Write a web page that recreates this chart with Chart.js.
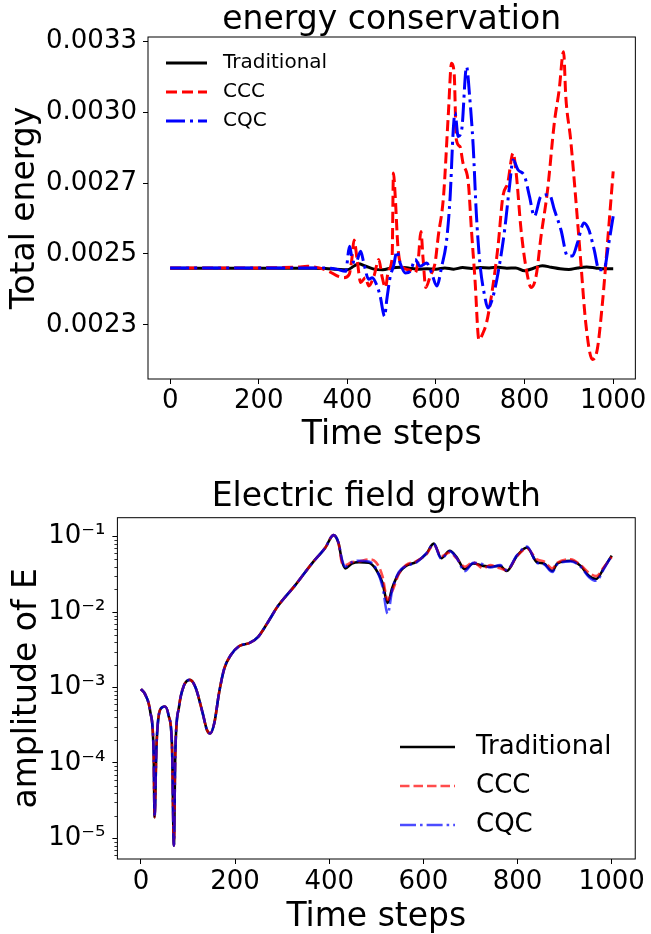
<!DOCTYPE html>
<html>
<head>
<meta charset="utf-8">
<script src="https://cdn.jsdelivr.net/npm/chart.js@4.4.0/dist/chart.umd.min.js"></script>
<style>
  body { margin: 0; background: #fff; }
  canvas { display: block; }
</style>
</head>
<body>
<canvas id="energy-chart" width="651" height="467"></canvas>
<canvas id="field-chart" width="651" height="467"></canvas>
<script>
// x axis ticks, shared by both panels
const stepTicks = [0, 200, 400, 600, 800, 1000]

// energy conservation panel
const energyTicks = [0.00228, 0.002501, 0.002743, 0.003009, 0.0033]
const energyTickLabels = ['0.0023', '0.0025', '0.0027', '0.0030', '0.0033']

const tradSteps = [0, 100, 200, 300, 325, 350, 375, 400, 415, 425, 440, 460, 480, 500, 520, 540, 560, 580, 600, 620, 640, 660, 680, 700, 720, 740, 760, 780, 800, 820, 840, 860, 880, 900, 920, 940, 960, 980, 1000]
const tradEnergy = [0.002455, 0.002455, 0.002455, 0.002455, 0.002455, 0.002454, 0.002452, 0.002450, 0.002462, 0.002469, 0.002462, 0.002452, 0.002450, 0.002456, 0.002458, 0.002455, 0.002452, 0.002453, 0.002452, 0.002456, 0.002452, 0.002457, 0.002454, 0.002457, 0.002456, 0.002458, 0.002455, 0.002456, 0.002447, 0.002455, 0.002463, 0.002458, 0.002453, 0.002451, 0.002456, 0.002459, 0.002456, 0.002453, 0.002453]

const cccSteps = [0, 100, 200, 250, 290, 310, 336, 358, 381, 392, 404, 410, 415, 422, 430, 441, 448, 460, 471, 478, 486, 493, 501, 504, 508, 514, 523, 538, 553, 560, 566, 571, 577, 587, 598, 605, 617, 628, 635, 641, 646, 654, 661, 673, 680, 688, 697, 706, 714, 725, 740, 751, 762, 774, 781, 792, 804, 815, 826, 837, 852, 867, 878, 888, 893, 904, 915, 927, 938, 953, 964, 975, 987, 1000]
const cccEnergy = [0.002456, 0.002456, 0.002456, 0.002457, 0.002459, 0.002461, 0.002456, 0.002445, 0.002428, 0.002425, 0.002435, 0.002483, 0.002547, 0.002483, 0.002410, 0.002425, 0.002399, 0.002430, 0.002483, 0.002430, 0.002394, 0.002450, 0.002488, 0.002779, 0.002696, 0.002526, 0.002461, 0.002450, 0.002440, 0.002483, 0.002575, 0.002483, 0.002394, 0.002430, 0.002472, 0.002558, 0.002696, 0.003005, 0.003206, 0.003165, 0.002902, 0.002877, 0.002815, 0.002744, 0.002581, 0.002420, 0.002236, 0.002256, 0.002286, 0.002367, 0.002526, 0.002696, 0.002744, 0.002852, 0.002779, 0.002581, 0.002450, 0.002394, 0.002430, 0.002558, 0.002720, 0.002966, 0.003097, 0.003255, 0.003070, 0.002902, 0.002696, 0.002472, 0.002286, 0.002180, 0.002208, 0.002336, 0.002536, 0.002785]

const cqcSteps = [0, 100, 200, 300, 350, 375, 396, 405, 411, 419, 430, 437, 448, 456, 467, 474, 484, 489, 497, 504, 512, 519, 531, 542, 553, 564, 579, 590, 602, 613, 624, 632, 639, 643, 650, 658, 669, 676, 684, 691, 699, 710, 717, 729, 744, 755, 766, 774, 785, 800, 811, 822, 837, 856, 867, 882, 897, 908, 919, 934, 945, 957, 968, 979, 990, 1000]
const cqcEnergy = [0.002456, 0.002456, 0.002456, 0.002456, 0.002456, 0.002452, 0.002445, 0.002526, 0.002483, 0.002472, 0.002510, 0.002472, 0.002420, 0.002425, 0.002399, 0.002367, 0.002306, 0.002357, 0.002430, 0.002461, 0.002510, 0.002472, 0.002440, 0.002445, 0.002483, 0.002461, 0.002472, 0.002440, 0.002399, 0.002461, 0.002547, 0.002696, 0.002940, 0.003005, 0.002915, 0.002940, 0.003192, 0.003070, 0.002877, 0.002638, 0.002472, 0.002367, 0.002331, 0.002367, 0.002472, 0.002581, 0.002732, 0.002827, 0.002791, 0.002767, 0.002696, 0.002627, 0.002696, 0.002702, 0.002650, 0.002581, 0.002494, 0.002494, 0.002536, 0.002604, 0.002581, 0.002515, 0.002450, 0.002450, 0.002536, 0.002627]

// electric field growth panel
const fieldTicks = [1e-5, 1e-4, 1e-3, 1e-2, 1e-1]
const fieldTickLabels = ['10⁻⁵', '10⁻⁴', '10⁻³', '10⁻²', '10⁻¹']

const fieldSteps = [0, 9, 20, 27, 29, 33, 41, 51, 59, 66, 70, 73, 81, 91, 104, 116, 131, 140, 147, 156, 166, 177, 191, 209, 231, 249, 270, 291, 327, 363, 392, 409, 420, 427, 434, 448, 463, 484, 499, 513, 524, 534, 548, 563, 584, 606, 622, 638, 656, 670, 688, 706, 727, 742, 763, 777, 799, 820, 841, 856, 874, 884, 913, 934, 952, 967, 984, 1000]
const tradField = [9.5e-4, 8.1e-4, 4.7e-4, 1.35e-4, 1.9e-5, 1.66e-4, 5.1e-4, 5.6e-4, 4.2e-4, 1.66e-4, 8.0e-6, 1.35e-4, 5.6e-4, 1.05e-3, 1.26e-3, 1.0e-3, 4.6e-4, 2.75e-4, 2.45e-4, 3.4e-4, 8.5e-4, 1.78e-3, 2.7e-3, 3.55e-3, 3.9e-3, 4.7e-3, 7.4e-3, 1.2e-2, 2.24e-2, 4.4e-2, 7.2e-2, 0.105, 0.081, 0.048, 0.038, 0.044, 0.046, 0.045, 0.037, 0.0245, 0.0132, 0.021, 0.033, 0.041, 0.046, 0.059, 0.081, 0.052, 0.065, 0.054, 0.037, 0.044, 0.041, 0.040, 0.041, 0.035, 0.056, 0.072, 0.046, 0.044, 0.035, 0.044, 0.048, 0.041, 0.030, 0.0275, 0.039, 0.056]
const cccField = [9.5e-4, 8.1e-4, 4.7e-4, 1.35e-4, 1.9e-5, 1.66e-4, 5.1e-4, 5.6e-4, 4.2e-4, 1.66e-4, 8.0e-6, 1.35e-4, 5.6e-4, 1.05e-3, 1.26e-3, 1.0e-3, 4.6e-4, 2.75e-4, 2.45e-4, 3.4e-4, 8.5e-4, 1.78e-3, 2.7e-3, 3.55e-3, 3.9e-3, 4.7e-3, 7.4e-3, 1.2e-2, 2.24e-2, 4.4e-2, 7.2e-2, 0.105, 0.080, 0.045, 0.042, 0.046, 0.047, 0.050, 0.046, 0.030, 0.0145, 0.019, 0.032, 0.042, 0.047, 0.058, 0.078, 0.055, 0.062, 0.052, 0.040, 0.046, 0.038, 0.042, 0.038, 0.036, 0.055, 0.070, 0.050, 0.047, 0.038, 0.045, 0.050, 0.042, 0.033, 0.030, 0.040, 0.054]
const cqcField = [9.5e-4, 8.1e-4, 4.7e-4, 1.35e-4, 1.9e-5, 1.66e-4, 5.1e-4, 5.6e-4, 4.2e-4, 1.66e-4, 8.0e-6, 1.35e-4, 5.6e-4, 1.05e-3, 1.26e-3, 1.0e-3, 4.6e-4, 2.75e-4, 2.45e-4, 3.4e-4, 8.5e-4, 1.78e-3, 2.7e-3, 3.55e-3, 3.9e-3, 4.7e-3, 7.4e-3, 1.2e-2, 2.24e-2, 4.4e-2, 7.2e-2, 0.105, 0.082, 0.050, 0.040, 0.046, 0.048, 0.047, 0.038, 0.022, 0.0095, 0.020, 0.034, 0.041, 0.045, 0.060, 0.080, 0.051, 0.064, 0.053, 0.035, 0.045, 0.043, 0.039, 0.042, 0.036, 0.057, 0.074, 0.045, 0.043, 0.034, 0.043, 0.047, 0.040, 0.029, 0.026, 0.038, 0.056]

const FONT = 'DejaVu Sans'
Chart.defaults.font.family = FONT
Chart.defaults.color = '#000'

const toPoints = (xs, ys) => xs.map((x, i) => ({ x: x, y: ys[i] }))

// box round the plot area, like matplotlib spines
const frame = {
  id: 'frame',
  afterDatasetsDraw (chart) {
    const { ctx, chartArea: a } = chart
    ctx.save()
    ctx.strokeStyle = '#000'
    ctx.lineWidth = 1
    ctx.strokeRect(a.left, a.top, a.right - a.left, a.bottom - a.top)
    ctx.restore()
  }
}

// legend drawn inside the plot area
const innerLegend = {
  id: 'innerLegend',
  afterDraw (chart, args, opts) {
    const ctx = chart.ctx
    ctx.save()
    ctx.font = opts.size + 'px "' + FONT + '"'
    ctx.textBaseline = 'middle'
    ctx.fillStyle = '#000'
    chart.data.datasets.forEach((ds, row) => {
      const y = opts.y + row * opts.rowGap
      ctx.beginPath()
      ctx.strokeStyle = ds.borderColor
      ctx.lineWidth = ds.borderWidth
      ctx.setLineDash(ds.borderDash || [])
      ctx.moveTo(opts.x, y)
      ctx.lineTo(opts.x + opts.handle, y)
      ctx.stroke()
      ctx.setLineDash([])
      ctx.fillText(ds.label, opts.x + opts.handle + opts.gap, y)
    })
    ctx.restore()
  }
}

// short minor ticks on a log y axis
const minorTicks = {
  id: 'minorTicks',
  afterDraw (chart) {
    const scale = chart.scales.y
    const ctx = chart.ctx
    ctx.save()
    ctx.strokeStyle = '#000'
    ctx.lineWidth = 0.8
    for (let e = -6; e <= 0; e++) {
      for (let m = 2; m <= 9; m++) {
        const v = m * Math.pow(10, e)
        if (v < scale.min || v > scale.max) continue
        const y = Math.round(scale.getPixelForValue(v)) + 0.5
        ctx.beginPath()
        ctx.moveTo(scale.right - 3, y)
        ctx.lineTo(scale.right, y)
        ctx.stroke()
      }
    }
    ctx.restore()
  }
}

function stepAxis (axisHeight, titleBottom, tickPad) {
  return {
    type: 'linear',
    min: -50,
    max: 1050,
    afterBuildTicks: (scale) => { scale.ticks = stepTicks.map(v => ({ value: v })) },
    afterFit: (scale) => { scale.height = axisHeight },
    ticks: { font: { size: 26, lineHeight: 1 }, padding: tickPad, maxRotation: 0, callback: (v) => String(v) },
    grid: { drawOnChartArea: false, tickLength: 5, tickColor: '#000' },
    border: { display: false },
    title: { display: true, text: 'Time steps', font: { size: 33, lineHeight: 1 }, padding: { top: 0, bottom: titleBottom } }
  }
}

const energyChart = new Chart(document.getElementById('energy-chart').getContext('2d'), {
  type: 'line',
  data: {
    datasets: [
      { label: 'Traditional', data: toPoints(tradSteps, tradEnergy), borderColor: '#000000', borderWidth: 3, order: 3 },
      { label: 'CCC', data: toPoints(cccSteps, cccEnergy), borderColor: '#ff0000', borderWidth: 3, borderDash: [11, 5], order: 2 },
      { label: 'CQC', data: toPoints(cqcSteps, cqcEnergy), borderColor: '#0000ff', borderWidth: 3, borderDash: [19, 5, 3, 5], order: 1 }
    ]
  },
  options: {
    responsive: false,
    animation: false,
    devicePixelRatio: 1,
    layout: { padding: { left: 0, right: 13, top: 0, bottom: 0 } },
    elements: { point: { radius: 0 }, line: { cubicInterpolationMode: 'monotone', fill: false } },
    scales: {
      x: stepAxis(88, 15.5, 4),
      y: {
        type: 'logarithmic',
        min: 0.002125,
        max: 0.003318,
        afterBuildTicks: (scale) => { scale.ticks = energyTicks.map(v => ({ value: v })) },
        afterFit: (scale) => { scale.width = 148 },
        ticks: { font: { size: 26, lineHeight: 1 }, padding: 6, callback: (v, i) => energyTickLabels[i] },
        grid: { drawOnChartArea: false, tickLength: 5, tickColor: '#000' },
        border: { display: false },
        title: { display: true, text: 'Total energy', font: { size: 33, lineHeight: 1 }, padding: { top: 9, bottom: 0 } }
      }
    },
    plugins: {
      legend: { display: false },
      tooltip: { enabled: false },
      title: { display: true, fullSize: false, text: 'energy conservation', color: '#000', font: { size: 33, weight: 'normal', lineHeight: 0.9 }, padding: { top: 6, bottom: 1.3 } },
      innerLegend: { x: 166, y: 63, rowGap: 29, handle: 41, gap: 16, size: 20 }
    }
  },
  plugins: [frame, innerLegend]
})

const fieldChart = new Chart(document.getElementById('field-chart').getContext('2d'), {
  type: 'line',
  data: {
    datasets: [
      { label: 'Traditional', data: toPoints(fieldSteps, tradField), borderColor: '#000000', borderWidth: 2.6, order: 3 },
      { label: 'CCC', data: toPoints(fieldSteps, cccField), borderColor: 'rgba(255,0,0,0.7)', borderWidth: 2.6, borderDash: [9.5, 4], order: 2 },
      { label: 'CQC', data: toPoints(fieldSteps, cqcField), borderColor: 'rgba(0,0,255,0.7)', borderWidth: 2.6, borderDash: [16, 4, 2.6, 4], order: 1 }
    ]
  },
  options: {
    responsive: false,
    animation: false,
    devicePixelRatio: 1,
    layout: { padding: { left: 0, right: 13.4, top: 0, bottom: 0 } },
    elements: { point: { radius: 0 }, line: { cubicInterpolationMode: 'monotone', fill: false } },
    scales: {
      x: stepAxis(75, 0, 5.5),
      y: {
        type: 'logarithmic',
        min: 5.31e-6,
        max: 0.1786,
        afterBuildTicks: (scale) => { scale.ticks = fieldTicks.map(v => ({ value: v })) },
        afterFit: (scale) => { scale.width = 117.4 },
        ticks: { font: { size: 26, lineHeight: 1 }, padding: 7, callback: (v, i) => fieldTickLabels[i] },
        grid: { drawOnChartArea: false, tickLength: 5, tickColor: '#000' },
        border: { display: false },
        title: { display: true, text: 'amplitude of E', font: { size: 33, lineHeight: 1 }, padding: { top: 11, bottom: 0 } }
      }
    },
    plugins: {
      legend: { display: false },
      tooltip: { enabled: false },
      title: { display: true, fullSize: false, text: 'Electric field growth', color: '#000', font: { size: 33, weight: 'normal', lineHeight: 1 }, padding: { top: 14, bottom: 3.7 } },
      innerLegend: { x: 400, y: 280, rowGap: 39, handle: 55, gap: 21, size: 26 }
    }
  },
  plugins: [frame, innerLegend, minorTicks]
})
</script>
</body>
</html>
